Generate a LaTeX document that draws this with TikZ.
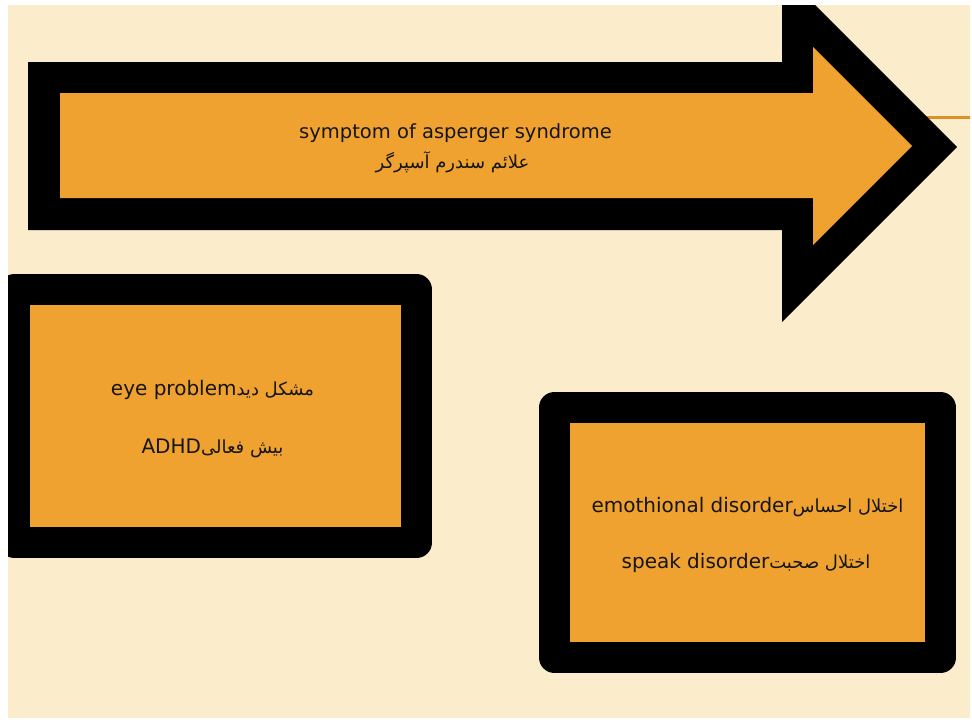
\documentclass[tikz,border=0pt]{standalone}
\usepackage{fontspec}
\setmainfont{DejaVu Sans}
\newfontfamily\arabicfont[Script=Arabic]{DejaVu Sans}
\TeXXeTstate=1
\definecolor{cream}{HTML}{FBEDCB}
\definecolor{orng}{HTML}{EFA22F}
\definecolor{ink}{HTML}{151515}
\newcommand{\arsz}{\arabicfont\fontsize{18}{22}\selectfont}
\begin{document}
\begin{tikzpicture}[x=1pt,y=-1pt,
  boxstyle/.style={draw=black,fill=orng,line width=31pt,line join=round,inner sep=0pt},
  lbl/.style={anchor=base,inner sep=0pt,text=ink,font=\fontsize{20}{24}\selectfont},
  ar/.style={font=\arsz}]
\useasboundingbox (0,0) rectangle (972,721);
\fill[white] (0,0) rectangle (972,721);
\fill[cream] (8,5) rectangle (970,718);
\begin{scope}
\clip (8,5) rectangle (970,718);
% thin orange line at right
\coordinate (ls) at (900,117);
\coordinate (le) at (972,117);
\draw[orng!90!black,line width=3pt] (ls) -- (le);
% arrow
\fill[black] (28,62) -- (782,62) -- (782,-28) -- (957,147) -- (782,322) -- (782,230) -- (28,230) -- cycle;
\fill[orng] (60,93) -- (813,93) -- (813,47) -- (912,146) -- (813,245) -- (813,198) -- (60,198) -- cycle;
% boxes
\node[boxstyle,minimum width=402pt,minimum height=253pt] (box1) at (215.5,416) {};
\node[boxstyle,minimum width=386pt,minimum height=250pt] (box2) at (747.5,532.5) {};
\end{scope}
% texts
\node[lbl,font=\fontsize{19.5}{24}\selectfont] (t1) at (455.5,138) {symptom of asperger syndrome};
\node[lbl,ar] (t2) at (452.5,168) {\beginR علائم سندرم آسپرگر\endR};
\node[lbl] (b1a) at (212.5,395) {eye problem\beginR{\arsz مشکل دید}\endR};
\node[lbl] (b1b) at (212.5,453) {ADHD\beginR{\arsz بیش فعالی}\endR};
\node[lbl] (b2a) at (747.5,512) {emothional disorder\beginR{\arsz اختلال احساس}\endR};
\node[lbl] (b2b) at (746,568) {speak disorder\beginR{\arsz اختلال صحبت}\endR};
\end{tikzpicture}
\end{document}
